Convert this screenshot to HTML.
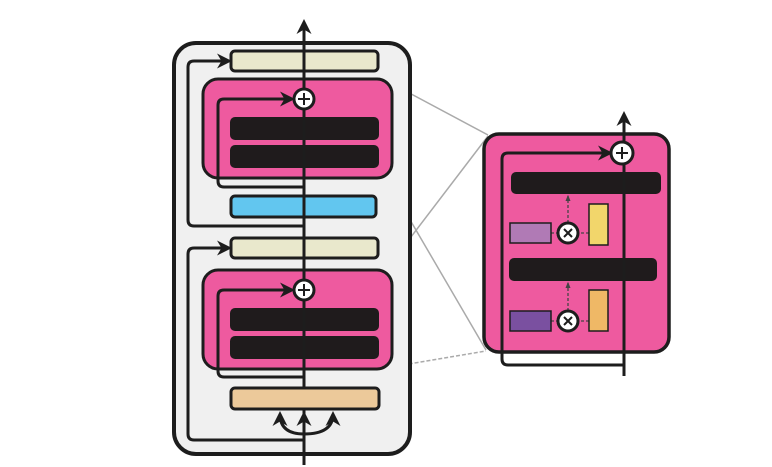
<!DOCTYPE html>
<html><head><style>body{margin:0;background:#fff}svg{display:block}</style></head><body>
<svg width="772" height="467" viewBox="0 0 772 467" xmlns="http://www.w3.org/2000/svg">
<defs>
<marker id="a" viewBox="0 0 10 10" refX="8" refY="5" markerWidth="5" markerHeight="5" orient="auto"><path d="M0,0L10,5L0,10L3,5z" fill="#1d1d1d"/></marker>
<marker id="b" viewBox="0 0 10 10" refX="8" refY="5" markerWidth="5" markerHeight="5" orient="auto"><path d="M0,1L10,5L0,9z" fill="#444"/></marker>
</defs>
<g stroke="#aaa" stroke-width="1.5" fill="none">
<line x1="385" y1="80" x2="488" y2="135"/>
<line x1="385" y1="177" x2="486" y2="350"/>
<line x1="385" y1="271" x2="488" y2="136"/>
<line x1="385" y1="368" x2="486" y2="351" stroke-dasharray="4,2"/>
</g>
<rect x="174" y="43" width="236" height="411" rx="22" fill="#f0f0f0" stroke="#1d1d1d" stroke-width="4"/>
<g fill="none" stroke="#1d1d1d" stroke-width="3">
<path d="M304,226H194Q188,226 188,220V67Q188,61 194,61H229" marker-end="url(#a)"/>
<path d="M304,440H194Q188,440 188,434V254Q188,248 194,248H229" marker-end="url(#a)"/>
</g>
<rect x="231" y="51" width="147" height="20" rx="4" fill="#e9e8cc" stroke="#1d1d1d" stroke-width="3"/>
<rect x="203" y="79" width="189" height="99" rx="15" fill="#ee5a9f" stroke="#1d1d1d" stroke-width="3"/>
<rect x="230" y="117" width="149" height="23" rx="5" fill="#1f1b1c"/>
<rect x="230" y="145" width="149" height="23" rx="5" fill="#1f1b1c"/>
<rect x="231" y="196" width="145" height="21" rx="4" fill="#62c6ef" stroke="#1d1d1d" stroke-width="3"/>
<rect x="231" y="238" width="147" height="20" rx="4" fill="#e9e8cc" stroke="#1d1d1d" stroke-width="3"/>
<rect x="203" y="270" width="189" height="99" rx="15" fill="#ee5a9f" stroke="#1d1d1d" stroke-width="3"/>
<rect x="230" y="308" width="149" height="23" rx="5" fill="#1f1b1c"/>
<rect x="230" y="336" width="149" height="23" rx="5" fill="#1f1b1c"/>
<g fill="none" stroke="#1d1d1d" stroke-width="3">
<path d="M304,465V22" marker-end="url(#a)"/>
<path d="M304,187H224Q218,187 218,181V105Q218,99 224,99H292" marker-end="url(#a)"/>
<path d="M304,377H224Q218,377 218,371V296Q218,290 224,290H292" marker-end="url(#a)"/>
<path d="M304,434Q280,434 280,414" marker-end="url(#a)"/>
<path d="M304,434Q333,434 333,414" marker-end="url(#a)"/>
<path d="M304,440V414" marker-end="url(#a)"/>
</g>
<rect x="231" y="388" width="148" height="21" rx="4" fill="#ecc99a" stroke="#1d1d1d" stroke-width="3"/>
<g stroke="#1d1d1d" stroke-width="3" fill="#fff"><circle cx="304" cy="99" r="10"/><circle cx="304" cy="290" r="10"/></g>
<g stroke="#1d1d1d" stroke-width="2"><path d="M298,99h12M304,93v12M298,290h12M304,284v12"/></g>
<rect x="484" y="134" width="185" height="218" rx="15" fill="#ee5a9f" stroke="#1d1d1d" stroke-width="3.5"/>
<rect x="511" y="172" width="150" height="22" rx="5" fill="#1f1b1c"/>
<rect x="509" y="258" width="148" height="23" rx="5" fill="#1f1b1c"/>
<g fill="none" stroke="#1d1d1d" stroke-width="3">
<path d="M624,376V114" marker-end="url(#a)"/>
<path d="M624,365H508Q502,365 502,359V159Q502,153 508,153H610" marker-end="url(#a)"/>
</g>
<g stroke="#444" stroke-width="1.3" stroke-dasharray="3,2" fill="none">
<path d="M568,223V196" marker-end="url(#b)"/><path d="M568,311V283" marker-end="url(#b)"/>
<path d="M551,233H589M551,321H589"/>
</g>
<rect x="510" y="223" width="41" height="20" fill="#b07ab5" stroke="#1d1d1d" stroke-width="1.5"/>
<rect x="589" y="204" width="19" height="41" fill="#f2d66b" stroke="#1d1d1d" stroke-width="1.5"/>
<rect x="510" y="311" width="41" height="20" fill="#7a50a0" stroke="#1d1d1d" stroke-width="1.5"/>
<rect x="589" y="290" width="19" height="41" fill="#efb866" stroke="#1d1d1d" stroke-width="1.5"/>
<g stroke="#1d1d1d" stroke-width="3" fill="#fff"><circle cx="622" cy="153" r="11"/><circle cx="568" cy="233" r="10"/><circle cx="568" cy="321" r="10"/></g>
<g stroke="#1d1d1d" stroke-width="2"><path d="M616,153h12M622,147v12M564,229l8,8M572,229l-8,8M564,317l8,8M572,317l-8,8"/></g>
</svg>
</body></html>
